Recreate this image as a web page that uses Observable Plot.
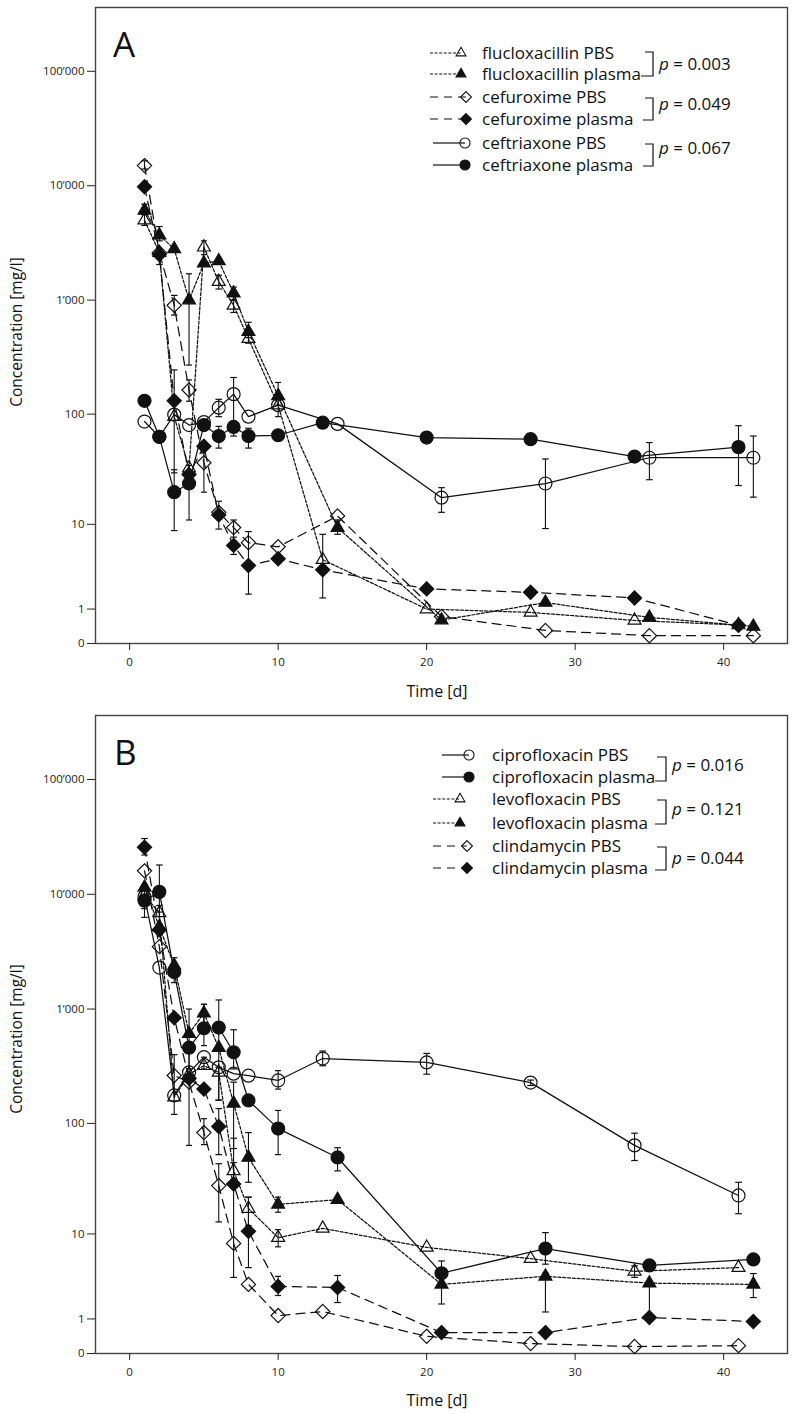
<!DOCTYPE html>
<html><head><meta charset="utf-8">
<script src="https://cdn.jsdelivr.net/npm/d3@7"></script>
<script src="https://cdn.jsdelivr.net/npm/@observablehq/plot@0.6"></script>
<style>
body{margin:0;background:#fff;}
#wrap{position:relative;width:796px;height:1414px;font-family:"Open Sans",sans-serif;}
#wrap svg{display:block;}
</style></head><body><div id="wrap"></div>
<script>
// ---------- shared ----------
const yTicks = [0, 1, 10, 100, 1000, 10000, 100000];
const xTicks = [0, 10, 20, 30, 40];
const daysOdd  = [1,2,3,4,5,6,7,8,10,13,20,27,34,41];
const daysEven = [1,2,3,4,5,6,7,8,10,14,21,28,35,42];

// ---------- panel A ----------
const flucloxPBS      = [5000,2600,95,33,2900,1450,900,460,120,4.4,1.0,0.87,0.59,0.45];
const flucloxPBS_lo   = [4500,null,null,null,2500,1250,780,420,null,null,null,null,null,null];
const flucloxPBS_hi   = [5600,null,null,null,3300,1650,1000,500,null,null,null,null,null,null];
const flucloxPlasma    = [6100,3700,2800,1000,2100,2200,1150,530,145,9.3,0.6,1.28,0.69,0.41];
const flucloxPlasma_lo = [5600,3300,null,270,null,null,1000,470,120,8,null,null,null,null];
const flucloxPlasma_hi = [6900,4400,null,1700,null,null,1300,640,190,11,null,null,null,null];
const cefuroxPBS      = [15000,2600,900,163,37,13,9.3,6.6,6.0,12,0.72,0.3,0.17,0.17];
const cefuroxPBS_lo   = [14000,null,740,130,20,null,6,null,null,null,null,null,null,null];
const cefuroxPBS_hi   = [16500,null,1100,200,55,null,11,null,null,null,null,null,null,null];
const cefuroxPlasma    = [9800,2500,131,29,52,12.3,6.2,3.8,4.5,3.4,2.0,1.8,1.5,0.44];
const cefuroxPlasma_lo = [null,2050,30,null,null,9,5,1.7,null,1.5,null,null,null,null];
const cefuroxPlasma_hi = [null,null,245,null,null,16.5,7.5,8.5,null,8,null,null,null,null];
const ceftriaxPBS      = [86,63,99,80,85,114,150,95,120,82,17.8,24,41,41];
const ceftriaxPBS_lo   = [null,null,null,null,null,95,64,null,95,null,13,9.1,26,18];
const ceftriaxPBS_hi   = [null,null,null,null,null,135,210,null,135,null,22,40,56,64];
const ceftriaxPlasma    = [131,63,20,24,80,64,77,64,65,84,62,60,42,51];
const ceftriaxPlasma_lo = [null,null,8.7,11,null,50,null,50,null,null,null,null,null,23];
const ceftriaxPlasma_hi = [null,null,32,35,null,78,null,75,null,null,null,null,null,79];

// ---------- panel B ----------
const ciproPBS      = [9500,2300,176,280,380,310,273,262,238,370,342,228,64,22.8];
const ciproPBS_lo   = [null,null,120,null,300,160,null,null,200,320,270,215,47,15.5];
const ciproPBS_hi   = [null,null,400,null,null,null,null,null,290,430,410,240,82,30];
const ciproPlasma    = [8800,10500,2100,460,680,690,420,159,90,50,4.0,7.2,4.85,5.6];
const ciproPlasma_lo = [6300,7000,null,null,480,430,300,null,53,38,3,5,null,null];
const ciproPlasma_hi = [10000,18000,null,null,1100,1200,660,null,130,61,5.4,10.3,null,null];
const levoPBS      = [9800,6900,170,270,320,280,38,17.3,9.2,11.3,7.4,5.7,4.2,4.6];
const levoPBS_lo   = [7500,5500,null,null,null,null,27,12,7.5,null,null,null,3.6,null];
const levoPBS_hi   = [12000,8000,null,null,null,null,45,22,11,null,null,null,4.8,null];
const levoPlasma    = [11500,5200,2400,610,920,460,150,50,18.9,20.9,3.0,3.7,3.1,3.0];
const levoPlasma_lo = [null,null,1700,300,700,160,60,30,16,null,1.7,1.3,1.06,2.07];
const levoPlasma_hi = [null,null,2800,1000,1100,null,230,83,22,null,3.8,4,null,3.97];
const clindaPBS      = [16000,3500,263,230,83,28,8.1,3.0,1.14,1.32,0.41,0.22,0.15,0.17];
const clindaPBS_lo   = [null,null,null,null,65,13,null,null,null,null,null,null,null,null];
const clindaPBS_hi   = [null,null,null,null,110,44,null,null,null,null,null,null,null,null];
const clindaPlasma    = [25700,4900,840,248,200,94,29,10.6,2.84,2.76,0.52,0.52,1.06,0.9];
const clindaPlasma_lo = [22000,null,null,64,null,53,3.6,4.6,2.2,1.78,null,null,null,null];
const clindaPlasma_hi = [30600,null,null,500,null,135,74,22,3.7,3.78,null,null,null,null];

// ---------- labels ----------
const labelsA = ["flucloxacillin PBS","flucloxacillin plasma","cefuroxime PBS","cefuroxime plasma","ceftriaxone PBS","ceftriaxone plasma"];
const labelsB = ["ciprofloxacin PBS","ciprofloxacin plasma","levofloxacin PBS","levofloxacin plasma","clindamycin PBS","clindamycin plasma"];
const pA = ["0.003","0.049","0.067"];
const pB = ["0.016","0.121","0.044"];

const DOT = "3,1.8", DASH = "9,6", SOLID = null;

function rows(days, v, lo, hi) {
  return days.map((t, i) => ({t, v: v[i], lo: lo[i], hi: hi[i]}));
}

const seriesA = [
  {rows: rows(daysOdd, flucloxPBS, flucloxPBS_lo, flucloxPBS_hi), symbol: "triangle", filled: false, dash: DOT, r: 4.8},
  {rows: rows(daysEven, flucloxPlasma, flucloxPlasma_lo, flucloxPlasma_hi), symbol: "triangle", filled: true, dash: DOT, r: 4.8},
  {rows: rows(daysEven, cefuroxPBS, cefuroxPBS_lo, cefuroxPBS_hi), symbol: "diamond2", filled: false, dash: DASH, r: 6.4},
  {rows: rows(daysOdd, cefuroxPlasma, cefuroxPlasma_lo, cefuroxPlasma_hi), symbol: "diamond2", filled: true, dash: DASH, r: 6.4},
  {rows: rows(daysEven, ceftriaxPBS, ceftriaxPBS_lo, ceftriaxPBS_hi), symbol: "circle", filled: false, dash: SOLID, r: 6.5},
  {rows: rows(daysOdd, ceftriaxPlasma, ceftriaxPlasma_lo, ceftriaxPlasma_hi), symbol: "circle", filled: true, dash: SOLID, r: 6.5}
];
const seriesB = [
  {rows: rows(daysOdd, ciproPBS, ciproPBS_lo, ciproPBS_hi), symbol: "circle", filled: false, dash: SOLID, r: 6.5},
  {rows: rows(daysEven, ciproPlasma, ciproPlasma_lo, ciproPlasma_hi), symbol: "circle", filled: true, dash: SOLID, r: 6.5},
  {rows: rows(daysOdd, levoPBS, levoPBS_lo, levoPBS_hi), symbol: "triangle", filled: false, dash: DOT, r: 4.8},
  {rows: rows(daysEven, levoPlasma, levoPlasma_lo, levoPlasma_hi), symbol: "triangle", filled: true, dash: DOT, r: 4.8},
  {rows: rows(daysOdd, clindaPBS, clindaPBS_lo, clindaPBS_hi), symbol: "diamond2", filled: false, dash: DASH, r: 6.4},
  {rows: rows(daysEven, clindaPlasma, clindaPlasma_lo, clindaPlasma_hi), symbol: "diamond2", filled: true, dash: DASH, r: 6.4}
];

const fmtY = d3.formatLocale({decimal: ".", thousands: "\u2019", grouping: [3], currency: ["", ""]}).format(",");
const INK = "#111";

function panel(series, marginTop, marginBottom) {
  const marks = [
    Plot.frame({stroke: "#444", strokeWidth: 1.4}),
    Plot.axisY({ticks: yTicks, tickFormat: fmtY, tickSize: 8, tickPadding: 3, label: null, fontSize: 11.5}),
    Plot.axisX({ticks: xTicks, tickSize: 7, tickPadding: 7, label: null, fontSize: 11.5})
  ];
  for (const s of series)
    marks.push(Plot.line(s.rows, {x: "t", y: "v", stroke: INK, strokeWidth: 1.25, strokeDasharray: s.dash}));
  for (const s of series)
    marks.push(Plot.link(s.rows.filter(d => d.lo != null || d.hi != null), {
      x1: "t", x2: "t", y1: d => d.lo ?? d.v, y2: d => d.hi ?? d.v,
      stroke: INK, strokeWidth: 1.1, markerStart: "tick", markerEnd: "tick"}));
  for (const s of series)
    marks.push(Plot.dot(s.rows, {x: "t", y: "v", symbol: s.symbol, r: s.r,
      fill: s.filled ? INK : "none", stroke: INK, strokeWidth: 1.2}));
  return Plot.plot({
    width: 796, height: 707, marginLeft: 95, marginRight: 9, marginTop, marginBottom,
    x: {domain: [-2.3, 44.3]},
    y: {type: "symlog", constant: 1, domain: [0, 361000]},
    style: {fontFamily: "'Open Sans', sans-serif", fontSize: "11.5px", color: "#222", background: "white", overflow: "visible"},
    marks
  });
}

const symType = {triangle: d3.symbolTriangle, circle: d3.symbolCircle, diamond2: d3.symbolDiamond2};
const legSize = {triangle: 42, circle: 80, diamond2: 75};

function decorate(svg, o) {
  const g = d3.select(svg).append("g").attr("font-family", "'Open Sans', sans-serif")
    .attr("fill", INK).attr("text-anchor", "start");
  // panel letter
  g.append("text").attr("x", o.letterX).attr("y", o.letterY).attr("font-size", 35).text(o.letter);
  // axis titles
  g.append("text").attr("transform", `translate(22,${o.yTitleY}) rotate(-90)`).attr("text-anchor", "middle")
    .attr("font-size", 15.5).text("Concentration [mg/l]");
  g.append("text").attr("x", 437).attr("y", o.xTitleY).attr("text-anchor", "middle")
    .attr("font-size", 16).text("Time [d]");
  // legend
  o.series.forEach((s, i) => {
    const y = o.rowY[i];
    const item = o.items[i];
    const ln = g.append("line").attr("x1", item.x0).attr("x2", item.sx).attr("y1", y).attr("y2", y)
      .attr("stroke", INK).attr("stroke-width", 1.2);
    if (item.dash) ln.attr("stroke-dasharray", item.dash);
    g.append("path").attr("d", d3.symbol(symType[s.symbol], legSize[s.symbol])())
      .attr("transform", `translate(${item.sx},${y})`)
      .attr("fill", s.filled ? INK : "none").attr("stroke", INK).attr("stroke-width", 1.1);
    g.append("text").attr("x", o.textX).attr("y", y + 6).attr("text-anchor", "start")
      .attr("font-size", 17).text(o.labels[i]);
  });
  // brackets + p values
  o.brackets.forEach((b, k) => {
    g.append("path").attr("d", `M${b.xt},${b.top}H${b.xv}V${b.bot}H${b.xb}`)
      .attr("fill", "none").attr("stroke", INK).attr("stroke-width", 1.2);
    const t = g.append("text").attr("x", b.xv + 6).attr("y", b.base).attr("text-anchor", "start")
      .attr("font-size", 17);
    t.append("tspan").attr("font-style", "italic").text("p");
    t.append("tspan").text(" = " + o.p[k]);
  });
}

const wrap = document.getElementById("wrap");
const svgA = panel(seriesA, 7, 64);
const svgB = panel(seriesB, 8, 61);
wrap.appendChild(svgA);
wrap.appendChild(svgB);

decorate(svgA, {
  letter: "A", letterX: 113, letterY: 57, yTitleY: 332, xTitleY: 697,
  series: seriesA, labels: labelsA, textX: 482,
  rowY: [53, 74, 97, 119, 143, 165],
  items: [
    {x0: 430, sx: 461, dash: "3,1.6"}, {x0: 430, sx: 461, dash: "3,1.6"},
    {x0: 430, sx: 466, dash: "8,6"}, {x0: 430, sx: 466, dash: "8,6"},
    {x0: 433, sx: 465, dash: null}, {x0: 433, sx: 465, dash: null}
  ],
  p: pA,
  brackets: [
    {xt: 645, xb: 641, xv: 653, top: 52, bot: 76, base: 70},
    {xt: 645, xb: 643, xv: 653, top: 98, bot: 120, base: 110},
    {xt: 645, xb: 643, xv: 653, top: 144, bot: 166, base: 153.5}
  ]
});
decorate(svgB, {
  letter: "B", letterX: 114, letterY: 58, yTitleY: 332, xTitleY: 699,
  series: seriesB, labels: labelsB, textX: 492,
  rowY: [48, 70, 92, 116, 139, 161],
  items: [
    {x0: 442, sx: 469, dash: null}, {x0: 442, sx: 469, dash: null},
    {x0: 433, sx: 460, dash: "3,1.6"}, {x0: 433, sx: 460, dash: "3,1.6"},
    {x0: 433, sx: 467, dash: "8,6"}, {x0: 433, sx: 467, dash: "8,6"}
  ],
  p: pB,
  brackets: [
    {xt: 657, xb: 655, xv: 666, top: 50, bot: 74, base: 64},
    {xt: 657, xb: 655, xv: 666, top: 93, bot: 117, base: 108},
    {xt: 657, xb: 655, xv: 666, top: 140, bot: 163, base: 156.5}
  ]
});
</script></body></html>
